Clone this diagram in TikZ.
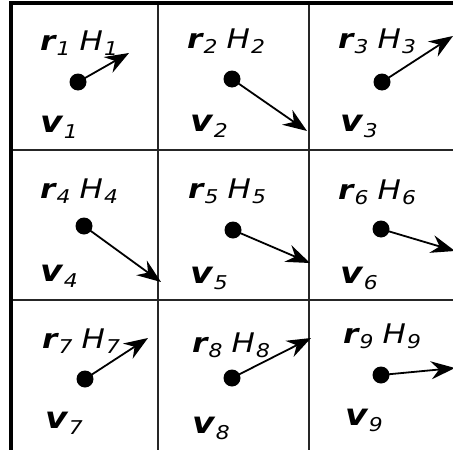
\documentclass[tikz,border=0pt]{standalone}
\usepackage{fontspec}
\setmainfont{DejaVu Sans}
\usetikzlibrary{arrows.meta}
\tikzset{
  cellline/.style={line width=1.8pt, draw=black!85},
  frameline/.style={line width=4pt, draw=black},
  particle/.style={circle, fill=black, inner sep=0pt, minimum size=17pt},
  vel/.style={-{Stealth[length=24pt, width=18pt, inset=8pt]}, line width=1.8pt},
  lbl/.style={anchor=base west, inner sep=0pt, font=\fontsize{27}{30}\selectfont},
  vlbl/.style={lbl, font=\fontsize{30}{32}\selectfont}
}
\newcommand{\widen}[1]{\scalebox{1.15}[1]{#1}}
\newcommand{\subidx}[1]{\raisebox{-0.2em}{\fontsize{19}{19}\selectfont\itshape #1}}
\newcommand{\vecsym}[2]{\widen{{\bfseries\itshape #1}\kern1pt\subidx{#2}}}
\newcommand{\hsym}[1]{\hspace{9pt}\widen{{\itshape H}\kern1pt\subidx{#1}}}

\begin{document}
\begin{tikzpicture}[x=1pt, y=-1pt]
  \useasboundingbox (0,0) rectangle (453,450);

  % Grid of cells
  \draw[cellline] (158,3) -- (158,460);
  \draw[cellline] (309,3) -- (309,460);
  \draw[cellline] (11,150) -- (460,150);
  \draw[cellline] (11,300) -- (460,300);
  \draw[cellline] (11,450.5) -- (460,450.5);
  \draw[frameline] (11,460) -- (11,3) -- (460,3);

  % Row 1
  \node[particle] (p1) at (78,82) {};
  \node[particle] (p2) at (232,79) {};
  \node[particle] (p3) at (382,82) {};
  \coordinate (t1) at (129,53);
  \coordinate (t2) at (307,131);
  \coordinate (t3) at (453,36);
  \node[lbl] (rh1) at (40,50) {\vecsym{r}{1}\hsym{1}};
  \node[lbl] (rh2) at (187,48) {\vecsym{r}{2}\hsym{2}};
  \node[lbl] (rh3) at (338,48) {\vecsym{r}{3}\hsym{3}};
  \node[vlbl] (v1) at (40,132) {\vecsym{v}{1}};
  \node[vlbl] (v2) at (190,131) {\vecsym{v}{2}};
  \node[vlbl] (v3) at (340,131) {\vecsym{v}{3}};

  % Row 2
  \node[particle] (p4) at (84,226) {};
  \node[particle] (p5) at (233,230) {};
  \node[particle] (p6) at (381,229) {};
  \coordinate (t4) at (161,282);
  \coordinate (t5) at (310,263);
  \coordinate (t6) at (455,251);
  \node[lbl] (rh4) at (40,198) {\vecsym{r}{4}\hsym{4}};
  \node[lbl] (rh5) at (188,198) {\vecsym{r}{5}\hsym{5}};
  \node[lbl] (rh6) at (338,199) {\vecsym{r}{6}\hsym{6}};
  \node[vlbl] (v4) at (40,281) {\vecsym{v}{4}};
  \node[vlbl] (v5) at (190,283) {\vecsym{v}{5}};
  \node[vlbl] (v6) at (340,283) {\vecsym{v}{6}};

  % Row 3
  \node[particle] (p7) at (85,379) {};
  \node[particle] (p8) at (232,378) {};
  \node[particle] (p9) at (381,375) {};
  \coordinate (t7) at (148,338);
  \coordinate (t8) at (311,338);
  \coordinate (t9) at (455,368);
  \node[lbl] (rh7) at (42,348) {\vecsym{r}{7}\hsym{7}};
  \node[lbl] (rh8) at (192,352) {\vecsym{r}{8}\hsym{8}};
  \node[lbl] (rh9) at (343,343) {\vecsym{r}{9}\hsym{9}};
  \node[vlbl] (v7) at (45,428) {\vecsym{v}{7}};
  \node[vlbl] (v8) at (192,433) {\vecsym{v}{8}};
  \node[vlbl] (v9) at (345,425) {\vecsym{v}{9}};

  % Velocities
  \draw[vel] (p1.center) -- (t1);
  \draw[vel] (p2.center) -- (t2);
  \draw[vel] (p3.center) -- (t3);
  \draw[vel] (p4.center) -- (t4);
  \draw[vel] (p5.center) -- (t5);
  \draw[vel] (p6.center) -- (t6);
  \draw[vel] (p7.center) -- (t7);
  \draw[vel] (p8.center) -- (t8);
  \draw[vel] (p9.center) -- (t9);
\end{tikzpicture}
\end{document}
